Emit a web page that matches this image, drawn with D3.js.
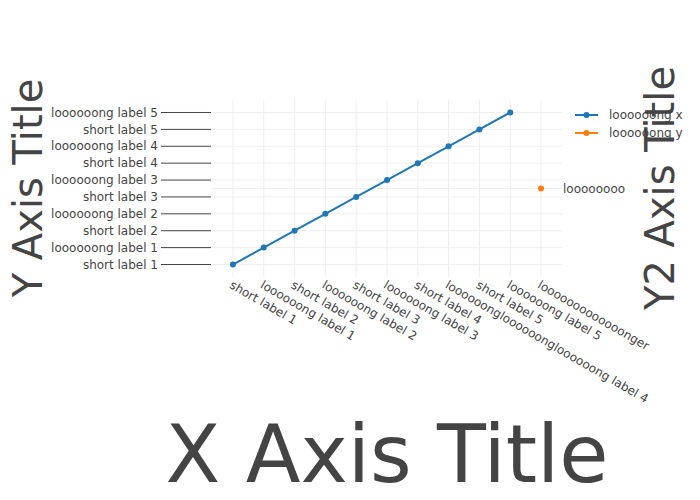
<!DOCTYPE html>
<html><head><meta charset="utf-8">
<script src="https://cdn.jsdelivr.net/npm/d3@7"></script>
<style>body{margin:0;background:#fff}text{font-family:"DejaVu Sans",sans-serif;fill:#444}</style>
</head><body><svg id="c" width="700" height="500"></svg>
<script>
const xCategories = ["short label 1","loooooong label 1","short label 2","loooooong label 2","short label 3","loooooong label 3","short label 4","loooooongloooooongloooooong label 4","short label 5","loooooong label 5","looooooooooooonger"];
const yCategories = ["short label 1","loooooong label 1","short label 2","loooooong label 2","short label 3","loooooong label 3","short label 4","loooooong label 4","short label 5","loooooong label 5"];
const y2Categories = ["loooooooo"];
const seriesX = {name:"loooooong x", x: xCategories.slice(0,10), y: yCategories.slice()};
const seriesY = {name:"loooooong y", x: ["looooooooooooonger"], y: ["loooooooo"]};
const colors = ["#1f77b4","#ff7f0e"];

const svg = d3.select("#c");
const L=212, R=562, T=100, B=277;
const xIdx = d3.scaleLinear().domain([-0.68, xCategories.length-1+0.68]).range([L,R]);
const x = c => xIdx(xCategories.indexOf(c));
const yIdx = d3.scaleLinear().domain([-0.74, yCategories.length-1+0.74]).range([B,T]);
const y = c => yIdx(yCategories.indexOf(c));
const y2Idx = d3.scaleLinear().domain([-0.5, 0.5]).range([B,T]);
const y2 = c => y2Idx(y2Categories.indexOf(c));

// grid
const g = svg.append("g");
g.selectAll(".vg").data(xCategories).join("line")
  .attr("x1",d=>x(d)).attr("x2",d=>x(d)).attr("y1",T).attr("y2",B)
  .attr("stroke","#eee").attr("stroke-width",1);
g.selectAll(".hg").data(yCategories).join("line")
  .attr("x1",L).attr("x2",R).attr("y1",d=>y(d)).attr("y2",d=>y(d))
  .attr("stroke","#eee").attr("stroke-width",1);
g.selectAll(".hg2").data(y2Categories).join("line")
  .attr("x1",L).attr("x2",R).attr("y1",d=>y2(d)).attr("y2",d=>y2(d))
  .attr("stroke","#eee").attr("stroke-width",1);

// y axis ticks
const ya = svg.append("g");
ya.selectAll("line").data(yCategories).join("line")
  .attr("x1",161).attr("x2",211).attr("y1",d=>y(d)).attr("y2",d=>y(d))
  .attr("stroke","#444").attr("stroke-width",1);
ya.selectAll("text").data(yCategories).join("text")
  .attr("x",158).attr("y",d=>y(d)).attr("dy","0.35em")
  .attr("text-anchor","end").attr("font-size",12).text(d=>d);

// y2 axis labels
svg.append("g").selectAll("text").data(y2Categories).join("text")
  .attr("x",563).attr("y",d=>y2(d)).attr("dy","0.35em")
  .attr("font-size",12).text(d=>d);

// x axis labels
svg.append("g").selectAll("text").data(xCategories).join("text")
  .attr("transform",d=>`translate(${x(d)},${B+3}) rotate(30)`)
  .attr("dy","0.7em").attr("font-size",12).text(d=>d);

// series
const line = d3.line().x(d=>x(d[0])).y(d=>d[2](d[1]));
const s1 = seriesX.x.map((v,i)=>[v, seriesX.y[i], y]);
svg.append("path").datum(s1).attr("d",line).attr("fill","none")
  .attr("stroke",colors[0]).attr("stroke-width",2);
svg.append("g").selectAll("circle").data(s1).join("circle")
  .attr("cx",d=>x(d[0])).attr("cy",d=>y(d[1])).attr("r",3).attr("fill",colors[0]);
const s2 = seriesY.x.map((v,i)=>[v, seriesY.y[i], y2]);
svg.append("g").selectAll("circle").data(s2).join("circle")
  .attr("cx",d=>x(d[0])).attr("cy",d=>y2(d[1])).attr("r",3).attr("fill",colors[1]);

// legend
const leg = svg.append("g").selectAll("g").data([seriesX,seriesY]).join("g")
  .attr("transform",(d,i)=>`translate(575,${115+i*18})`);
leg.append("line").attr("x1",0).attr("x2",23).attr("stroke",(d,i)=>colors[i]).attr("stroke-width",2);
leg.append("circle").attr("cx",11.5).attr("r",3).attr("fill",(d,i)=>colors[i]);
leg.append("text").attr("x",34).attr("dy","0.35em").attr("font-size",12).text(d=>d.name);

// titles
svg.append("text").attr("transform","translate(42,188) rotate(-90)")
  .attr("text-anchor","middle").attr("font-size",40).text("Y Axis Title");
svg.append("text").attr("transform","translate(674,188) rotate(-90)")
  .attr("text-anchor","middle").attr("font-size",40).text("Y2 Axis Title");
svg.append("text").attr("x",387).attr("y",482)
  .attr("text-anchor","middle").attr("font-size",80).text("X Axis Title");
</script></body></html>
